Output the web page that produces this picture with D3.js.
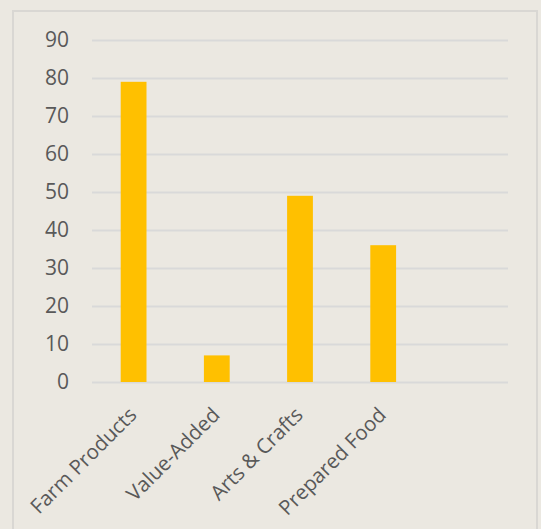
<!DOCTYPE html>
<html>
<head>
<meta charset="utf-8">
<script src="https://cdn.jsdelivr.net/npm/d3@7"></script>
<style>
  body { margin: 0; background: #ebe8e1; }
  svg text { font-family: "Open Sans", sans-serif; fill: #595959; }
</style>
</head>
<body>
<svg id="chart"></svg>
<script>
// categories and values (5th slot is empty in the source)
var categories = ["Farm Products", "Value-Added", "Arts & Crafts", "Prepared Food", ""];
var values = [79, 7, 49, 36, null];
var yTicks = [0, 10, 20, 30, 40, 50, 60, 70, 80, 90];

var outerWidth = 541, outerHeight = 529;
var margins = { left: 92, top: 40, right: 33, bottom: 147 };
var innerWidth = outerWidth - margins.left - margins.right;
var innerHeight = outerHeight - margins.top - margins.bottom;

var svg = d3.select('svg#chart')
    .attr('width', outerWidth)
    .attr('height', outerHeight);

// background + frame
svg.append('rect')
    .attr('x', 0).attr('y', 0)
    .attr('width', outerWidth).attr('height', outerHeight)
    .attr('fill', '#ebe8e1');
svg.append('rect')
    .attr('x', 13).attr('y', 11)
    .attr('width', 524).attr('height', 530)
    .attr('fill', 'none')
    .attr('stroke', '#d9d7d3')
    .attr('stroke-width', 2);

var g = svg.append('g')
    .attr('transform', 'translate(' + margins.left + ',' + margins.top + ')');

var x = d3.scaleBand()
    .domain(d3.range(categories.length))
    .range([0, innerWidth])
    .paddingInner(0.69)
    .paddingOuter(0.345);

var y = d3.scaleLinear()
    .domain([0, 90])
    .range([innerHeight, 0]);

// gridlines
var yAxis = d3.axisLeft(y)
    .tickValues(yTicks)
    .tickSize(-innerWidth)
    .tickPadding(23);

var gy = g.append('g').attr('class', 'y-axis').call(yAxis);
gy.select('.domain').remove();
gy.selectAll('.tick line')
    .attr('stroke', '#d9d9d9')
    .attr('stroke-width', 2);
gy.selectAll('.tick text')
    .attr('font-size', 21)
    .style('fill', '#595959');

// bars
g.selectAll('rect.bar')
    .data(values.map(function (v, i) { return { i: i, v: v }; }).filter(function (d) { return d.v != null; }))
    .enter()
    .append('rect')
    .attr('class', 'bar')
    .attr('x', function (d) { return x(d.i); })
    .attr('width', x.bandwidth())
    .attr('y', function (d) { return y(d.v); })
    .attr('height', function (d) { return y(0) - y(d.v); })
    .attr('fill', '#ffc000');

// category labels, rotated (skip the empty slot)
var xAxis = d3.axisBottom(x)
    .tickValues(d3.range(categories.length).filter(function (i) { return categories[i] !== ""; }))
    .tickSize(0)
    .tickFormat(function (i) { return categories[i]; });

var gx = g.append('g')
    .attr('transform', 'translate(0,' + innerHeight + ')')
    .call(xAxis);
gx.select('.domain').remove();
gx.selectAll('.tick text')
    .attr('font-size', 20.5)
    .style('fill', '#595959')
    .attr('text-anchor', 'end')
    .attr('dy', '0.35em')
    .attr('transform', 'translate(-3,27) rotate(-45)');
</script>
</body>
</html>
